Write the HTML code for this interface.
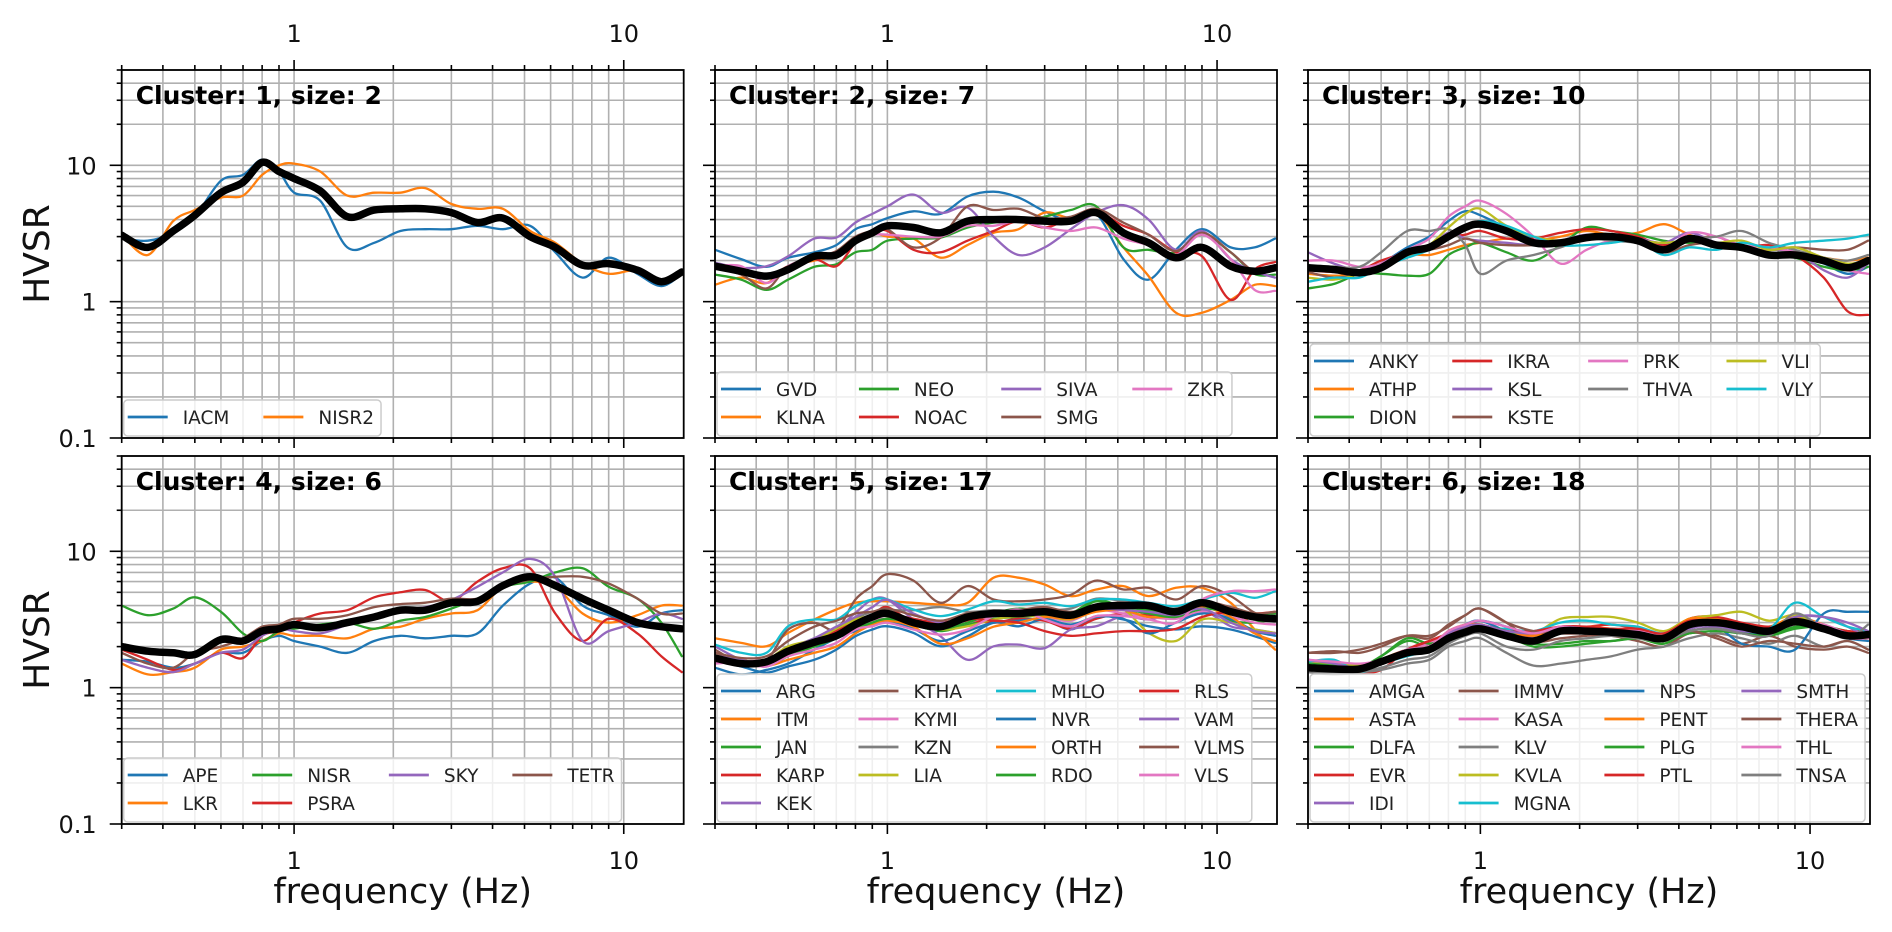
<!DOCTYPE html>
<html><head><meta charset="utf-8"><style>
html,body{margin:0;padding:0;background:#fff;}
svg{display:block;font-family:"DejaVu Sans","Liberation Sans",sans-serif;}
</style></head><body>
<svg id="fig" width="1892" height="932" viewBox="0 0 1892 932" xmlns="http://www.w3.org/2000/svg"></svg>
<script>
// Shared frequency grid (Hz)
const freqs = [0.3,0.36,0.43,0.5,0.6,0.7,0.8,0.9,1.0,1.2,1.45,1.75,2.1,2.5,3.0,3.6,4.3,5.2,6.2,7.5,9,11,13,15];
const xTicksMajor = [1,10];
const xTickLabels = ["1","10"];
const yTicksMajor = [0.1,1,10];
const yTickLabels = ["0.1","1","10"];

const c1Names = ["IACM","NISR2"];
const c1Series = [
 [2.9,2.8,3.2,4.2,7.7,8.5,11,9,6.3,5.5,2.5,2.7,3.3,3.4,3.4,3.6,3.4,3.6,2.3,1.5,2.1,1.6,1.3,1.6],
 [3.1,2.2,3.9,4.7,5.8,6,8.5,10,10.3,9,6,6.3,6.3,6.8,5.2,4.8,4.8,3.3,2.7,1.9,1.6,1.7,1.4,1.7]];
const c1Mean = [3.07,2.5,3.3,4.3,6.3,7.5,10.5,9.0,8.0,6.5,4.2,4.7,4.8,4.8,4.5,3.8,4.1,3.0,2.5,1.85,1.9,1.7,1.4,1.65];

const c2Names = ["GVD","KLNA","NEO","NOAC","SIVA","SMG","ZKR"];
const c2Series = [
 [2.4,2.05,1.8,2.1,2.3,2.6,3.4,3.7,4.1,4.6,4.4,5.9,6.4,5.8,4.6,3.9,4.4,2.05,1.45,2.4,3.4,2.5,2.5,2.9],
 [1.33,1.5,1.37,1.82,2.0,2.2,2.9,3.2,3.0,2.9,2.1,2.6,3.2,3.4,4.5,4.1,4.5,2.5,1.54,0.83,0.83,1.03,1.33,1.3],
 [1.58,1.45,1.22,1.45,1.8,1.88,2.3,2.4,2.8,2.9,2.95,3.5,3.8,3.9,4.2,4.7,5.0,2.5,2.4,2.3,3.1,2.3,1.6,1.58],
 [1.88,1.72,1.5,1.82,2.05,1.82,2.7,3.2,3.3,2.4,2.3,2.8,3.3,3.9,3.5,4.1,4.6,3.6,3.1,2.3,2.15,1.03,1.72,1.95],
 [1.93,1.77,1.82,2.15,2.9,2.95,3.8,4.4,5.0,6.1,4.5,4.9,3.0,2.2,2.5,3.4,4.5,5.1,4.0,2.4,3.3,2.05,1.67,1.5],
 [1.77,1.58,1.25,1.82,2.1,2.35,3.0,3.3,3.4,2.5,2.95,5.0,4.7,4.8,4.1,4.2,4.8,3.8,3.1,2.35,3.2,2.3,1.67,1.82],
 [1.82,1.82,1.37,1.82,2.15,2.3,2.8,3.1,3.1,3.0,3.0,3.6,3.6,3.9,3.5,3.3,3.5,2.9,2.6,2.2,3.1,2.05,1.22,1.2]];
const c2Mean = [1.82,1.67,1.54,1.72,2.15,2.2,2.8,3.2,3.6,3.5,3.2,3.9,4.0,4.0,3.9,3.9,4.5,3.2,2.7,2.1,2.5,1.82,1.67,1.77];

const c3Names = ["ANKY","ATHP","DION","IKRA","KSL","KSTE","PRK","THVA","VLI","VLY"];
const c3Series = [
 [1.8,1.7,1.65,1.9,2.5,3.0,3.9,4.6,4.3,3.5,2.9,2.8,3.0,2.9,2.7,2.6,2.8,2.7,2.6,2.3,2.2,1.9,1.6,1.8],
 [1.6,1.55,1.6,1.9,2.2,2.2,2.4,2.6,2.7,2.9,2.8,3.0,3.3,3.1,3.2,3.7,3.1,2.6,2.4,2.2,2.3,2.1,2.0,2.1],
 [1.25,1.35,1.6,1.6,1.55,1.6,2.2,2.5,2.7,2.3,2.0,2.6,3.5,3.3,3.1,2.8,2.7,2.7,2.4,2.2,2.1,1.8,1.7,1.8],
 [1.7,1.65,1.7,2.0,2.3,2.6,3.0,3.1,3.3,2.9,2.9,3.2,3.4,3.3,3.0,2.6,2.8,3.0,2.5,2.6,2.2,1.5,0.85,0.8],
 [2.3,1.9,1.7,1.9,2.4,2.5,3.2,2.9,2.8,2.7,2.6,2.8,3.1,3.0,2.9,2.7,3.2,2.7,2.4,2.4,2.3,1.7,1.5,1.9],
 [1.65,1.5,1.6,1.8,2.3,2.4,2.6,2.9,2.7,2.6,2.6,2.8,3.0,3.0,2.9,2.3,2.6,2.7,2.4,2.4,2.5,2.4,2.4,2.8],
 [2.0,2.0,1.8,1.9,2.4,2.9,4.2,5.0,5.5,4.4,3.0,1.9,2.4,2.8,2.7,2.4,3.2,3.0,2.6,2.5,2.3,2.0,1.7,1.6],
 [1.8,1.8,1.8,2.3,3.3,3.3,3.4,2.6,1.6,2.0,2.2,2.5,2.9,2.8,2.7,2.5,2.9,3.0,3.3,2.7,2.4,2.1,2.0,2.2],
 [1.5,1.45,1.6,1.8,2.2,2.6,3.5,4.4,4.8,3.6,3.0,2.8,3.0,2.9,2.8,2.7,2.8,2.7,2.8,2.4,2.5,2.1,1.9,2.0],
 [1.4,1.5,1.5,1.8,2.1,2.4,2.9,3.5,3.9,3.6,3.0,2.6,2.6,2.7,2.8,2.2,2.5,2.4,2.7,2.5,2.7,2.8,2.9,3.1]];
const c3Mean = [1.77,1.72,1.63,1.77,2.3,2.5,3.0,3.5,3.7,3.3,2.7,2.7,2.95,3.0,2.8,2.4,2.9,2.6,2.5,2.2,2.2,2.0,1.77,2.0];

const c4Names = ["APE","LKR","NISR","PSRA","SKY","TETR"];
const c4Series = [
 [1.6,1.55,1.4,1.5,1.8,1.8,2.2,2.4,2.2,2.0,1.8,2.2,2.4,2.3,2.4,2.5,4.0,5.8,6.4,4.0,3.4,2.8,3.5,3.7],
 [1.5,1.25,1.3,1.4,1.9,2.0,2.2,2.5,2.4,2.4,2.3,2.7,2.8,3.2,3.5,3.7,5.5,6.0,5.5,3.5,3.0,3.4,4.0,4.0],
 [4.0,3.4,3.8,4.6,3.6,2.5,2.2,2.6,2.7,2.9,3.0,2.7,3.1,3.3,3.8,4.5,5.5,6.0,7.0,7.5,5.5,4.5,3.0,1.7],
 [1.9,1.6,1.35,1.5,1.8,1.65,2.4,2.6,3.0,3.5,3.7,4.6,5.0,5.2,4.3,6.0,7.5,7.5,3.5,2.2,3.2,2.5,1.7,1.3],
 [1.6,1.4,1.3,1.5,1.8,1.9,2.4,2.7,2.6,2.5,2.9,3.4,3.7,3.9,4.4,5.5,7.0,8.8,6.5,2.2,2.6,3.0,3.5,3.2],
 [1.8,1.5,1.4,1.8,2.0,2.3,2.8,2.9,3.2,3.2,3.4,3.9,4.1,4.2,4.5,4.5,5.5,6.2,6.5,6.5,5.8,4.5,3.5,3.5]];
const c4Mean = [2.0,1.85,1.8,1.75,2.25,2.2,2.6,2.7,2.9,2.75,3.0,3.3,3.7,3.7,4.2,4.3,5.6,6.5,5.6,4.5,3.7,3.0,2.8,2.7];

const c5Names = ["ARG","ITM","JAN","KARP","KEK","KTHA","KYMI","KZN","LIA","MHLO","NVR","ORTH","RDO","RLS","VAM","VLMS","VLS"];
const c5Series = [
 [1.6,1.43,1.29,1.43,1.6,1.9,2.38,2.67,2.82,2.52,2.01,2.38,2.99,2.82,3.16,2.67,3.35,3.16,2.82,2.67,2.82,2.67,2.38,2.13],
 [2.3,2.13,2.01,2.52,3.16,3.74,4.19,4.3,4.3,4.19,4.07,4.19,6.4,6.4,5.7,4.69,5.25,5.56,4.69,5.4,5.4,4.19,2.67,1.9],
 [1.7,1.5,1.45,1.7,2.1,2.4,2.9,3.1,3.2,2.9,2.6,2.9,3.2,3.3,3.4,3.5,4.4,3.9,3.7,3.4,3.7,3.1,3.0,3.2],
 [1.6,1.5,1.45,1.8,2.2,2.4,3.0,3.4,3.9,3.0,2.9,3.1,3.0,3.2,3.1,2.7,3.2,3.5,3.4,3.5,3.9,3.5,3.2,3.4],
 [2.01,1.6,1.43,1.8,2.25,2.67,3.54,4.43,4.43,3.16,2.38,1.6,2.01,2.07,1.95,2.67,2.82,3.35,3.16,3.54,3.74,2.82,2.67,2.52],
 [1.9,1.52,1.6,2.67,2.99,2.67,4.43,5.56,6.8,6.1,4.19,5.56,4.43,4.3,4.43,4.8,6.1,5.25,5.4,4.43,5.56,4.69,3.54,3.16],
 [1.5,1.55,1.6,1.8,2.2,2.5,2.9,3.1,3.2,2.9,2.7,3.0,3.4,3.6,3.3,3.1,3.7,3.5,3.3,3.2,3.6,3.3,3.0,2.9],
 [1.7,1.6,1.5,1.9,2.3,2.6,3.2,3.6,3.7,3.7,3.9,3.6,3.7,3.6,3.7,3.8,4.5,4.3,4.0,3.7,4.2,3.6,3.3,3.4],
 [1.8,1.52,1.6,2.01,2.25,2.67,3.16,3.35,3.35,2.99,2.67,2.82,3.16,3.35,3.35,3.16,3.74,3.74,2.52,2.2,3.16,2.99,2.67,2.52],
 [2.07,1.8,1.8,2.82,3.16,3.16,3.96,4.43,4.43,3.74,3.35,3.74,4.3,4.07,4.19,3.96,4.43,4.43,4.19,3.96,4.43,4.96,4.56,5.1],
 [1.4,1.25,1.35,1.5,1.9,2.3,2.6,2.9,3.1,2.7,2.2,2.6,3.0,3.1,3.2,2.9,3.3,3.2,2.5,3.0,3.5,3.2,2.6,2.4],
 [1.7,1.6,1.45,1.6,1.8,2.0,2.5,2.9,3.1,2.8,2.1,2.3,2.8,3.0,3.3,3.2,3.6,3.7,3.3,3.4,3.9,3.3,2.5,2.2],
 [1.6,1.45,1.5,1.7,2.0,2.3,2.7,3.0,3.2,3.0,2.7,3.0,3.5,3.8,3.6,3.4,4.3,3.8,3.5,3.3,3.8,3.6,3.5,3.5],
 [1.7,1.55,1.5,1.8,2.1,2.6,3.0,3.3,3.5,3.2,3.0,3.2,3.1,3.0,2.6,2.4,2.5,2.6,2.6,2.7,3.3,3.6,3.5,3.6],
 [1.8,1.6,1.5,1.9,2.3,2.8,3.3,3.9,4.4,3.5,3.0,3.2,3.5,3.5,3.7,3.4,3.8,3.7,3.6,3.4,3.8,3.0,2.6,2.5],
 [1.8,1.65,1.7,2.2,2.8,3.1,3.5,3.6,3.8,3.4,3.1,3.5,3.6,3.7,3.9,3.6,4.0,4.2,3.9,3.8,4.3,3.9,3.5,3.6],
 [1.52,1.52,1.43,1.7,1.9,2.13,2.67,2.82,2.99,2.67,2.45,2.67,3.35,3.74,3.16,2.82,3.35,3.35,3.16,2.99,4.43,5.1,5.1,5.25]];
const c5Mean = [1.65,1.5,1.55,1.85,2.15,2.4,2.9,3.3,3.5,3.0,2.8,3.3,3.5,3.5,3.6,3.4,3.9,4.0,4.0,3.6,4.2,3.6,3.3,3.2];

const c6Names = ["AMGA","ASTA","DLFA","EVR","IDI","IMMV","KASA","KLV","KVLA","MGNA","NPS","PENT","PLG","PTL","SMTH","THERA","THL","TNSA"];
const c6Series = [
 [1.5,1.4,1.3,1.5,1.8,2.0,2.5,2.9,3.1,2.6,2.3,2.6,2.7,2.6,2.5,2.3,2.8,2.9,2.6,2.5,2.9,2.6,2.3,2.2],
 [1.6,1.45,1.3,1.5,1.8,1.9,2.6,2.8,2.9,2.4,2.3,2.7,2.7,2.7,2.6,2.4,3.2,3.2,2.9,2.8,3.3,2.9,2.5,2.3],
 [1.45,1.35,1.4,1.7,2.2,2.0,2.4,2.7,2.9,2.4,2.0,2.0,2.1,2.2,2.3,2.1,2.6,2.7,2.5,2.4,2.7,2.8,2.6,2.5],
 [1.5,1.4,1.3,1.35,1.9,2.2,2.4,2.7,2.8,2.5,2.4,2.8,2.8,2.9,2.7,2.4,3.2,3.3,3.0,2.8,3.0,2.8,2.6,2.6],
 [1.55,1.45,1.4,1.6,1.9,2.0,2.4,2.6,2.7,2.4,2.3,2.6,2.6,2.5,2.4,2.2,2.7,2.9,2.7,2.6,3.3,3.3,2.8,2.3],
 [1.8,1.85,1.8,2.0,2.4,2.4,2.8,3.4,3.8,3.0,2.2,2.3,2.4,2.4,2.2,2.0,2.5,2.4,2.1,2.4,2.0,1.9,2.0,1.8],
 [1.6,1.5,1.45,1.6,1.9,2.1,2.5,2.9,2.9,2.6,2.4,2.6,2.7,2.6,2.4,2.2,2.8,2.9,2.7,2.5,2.9,2.6,2.3,2.3],
 [1.3,1.3,1.3,1.35,1.5,1.6,2.0,2.2,2.3,1.8,1.45,1.5,1.6,1.7,1.9,2.0,2.3,2.5,2.3,2.1,2.4,2.0,2.2,1.9],
 [1.5,1.5,1.45,1.6,1.9,2.0,2.4,2.7,2.8,2.6,2.5,3.2,3.3,3.3,3.0,2.6,3.2,3.4,3.6,3.1,3.4,2.8,2.5,2.3],
 [1.55,1.6,1.3,1.5,1.7,1.9,2.3,2.6,2.7,2.7,2.6,3.0,3.1,2.9,2.8,2.5,3.0,3.1,2.9,2.7,4.2,3.3,2.8,2.6],
 [1.5,1.4,1.35,1.5,1.8,1.9,2.4,2.8,3.1,2.8,2.4,2.6,2.7,2.7,2.6,2.3,2.9,2.8,2.1,2.0,1.9,3.5,3.6,3.6],
 [1.5,1.4,1.3,1.6,1.9,2.0,2.6,2.9,2.9,2.6,2.4,2.7,2.8,2.7,2.6,2.4,3.2,3.1,2.8,2.7,3.1,2.7,2.4,2.3],
 [1.5,1.45,1.4,1.7,2.3,2.1,2.3,2.5,2.8,2.6,2.1,2.1,2.2,2.2,2.3,2.2,2.5,2.6,2.5,2.4,2.8,2.8,2.5,2.5],
 [1.45,1.4,1.35,1.5,1.9,2.2,2.5,2.8,2.9,2.6,2.6,2.8,2.8,2.7,2.7,2.5,3.1,3.0,2.7,2.6,3.0,2.7,2.6,2.4],
 [1.6,1.5,1.4,1.6,1.9,2.0,2.5,2.8,2.9,2.6,2.5,2.7,2.7,2.6,2.5,2.3,2.6,2.8,2.6,2.6,3.3,3.3,3.0,2.6],
 [1.8,1.8,1.9,2.1,2.4,2.3,2.9,3.4,3.8,3.0,2.6,2.5,2.5,2.5,2.4,2.2,2.6,2.3,2.0,2.2,2.1,2.0,2.2,1.9],
 [1.6,1.55,1.5,1.6,1.9,2.0,2.6,2.9,3.1,2.8,2.5,2.8,2.7,2.6,2.6,2.4,3.0,3.0,2.8,2.7,3.1,2.9,2.5,2.3],
 [1.3,1.25,1.3,1.4,1.6,1.7,2.1,2.4,2.5,2.0,1.9,2.2,2.3,2.4,2.3,2.2,2.6,2.7,2.5,2.4,3.5,2.7,2.3,2.9]];
const c6Mean = [1.4,1.37,1.37,1.55,1.8,1.9,2.3,2.55,2.7,2.4,2.2,2.6,2.6,2.55,2.45,2.3,2.9,3.0,2.8,2.6,3.05,2.7,2.4,2.45];

const clusterIds = [1,2,3,4,5,6];
const allNames = [c1Names,c2Names,c3Names,c4Names,c5Names,c6Names];
const allSeries = [c1Series,c2Series,c3Series,c4Series,c5Series,c6Series];
const allMeans = [c1Mean,c2Mean,c3Mean,c4Mean,c5Mean,c6Mean];

const COLORS = ["#1f77b4","#ff7f0e","#2ca02c","#d62728","#9467bd","#8c564b","#e377c2","#7f7f7f","#bcbd22","#17becf"];
const NS = "http://www.w3.org/2000/svg";
const svg = document.getElementById('fig');
const colLeft = [121.7, 715, 1308], rowTop = [70, 456];
const PW = 562, PH = 368;
const XMIN = 0.3, XMAX = 15.2, YMIN = 0.1, YMAX = 50;
const LFS = 18.5, ROWH = 28, COLSP = 34, HGAP = 15;

function el(tag, attrs, parent){ const e = document.createElementNS(NS, tag); for (const k in attrs) e.setAttribute(k, attrs[k]); (parent||svg).appendChild(e); return e; }
const ctx = document.createElement('canvas').getContext('2d');
ctx.font = LFS + 'px "DejaVu Sans"';
function tw(s){ return ctx.measureText(s).width; }

function smoothPath(pts){
  let d = `M${pts[0][0].toFixed(1)},${pts[0][1].toFixed(1)}`;
  for (let i=0;i<pts.length-1;i++){
    const p0 = pts[Math.max(0,i-1)], p1 = pts[i], p2 = pts[i+1], p3 = pts[Math.min(pts.length-1,i+2)];
    const c1x = p1[0]+(p2[0]-p0[0])/6, c1y = p1[1]+(p2[1]-p0[1])/6;
    const c2x = p2[0]-(p3[0]-p1[0])/6, c2y = p2[1]-(p3[1]-p1[1])/6;
    d += ` C${c1x.toFixed(1)},${c1y.toFixed(1)} ${c2x.toFixed(1)},${c2y.toFixed(1)} ${p2[0].toFixed(1)},${p2[1].toFixed(1)}`;
  }
  return d;
}

const defs = el('defs', {});

for (let p=0;p<6;p++){
  const row = Math.floor(p/3), col = p%3;
  const L = colLeft[col], T = rowTop[row];
  const xs = f => L + Math.log10(f/XMIN)/Math.log10(XMAX/XMIN)*PW;
  const ys = v => T + Math.log10(YMAX/v)/Math.log10(YMAX/YMIN)*PH;
  const g = el('g', {});
  
  
  const cp = el('clipPath', {id:'clip'+p}, defs);
  el('rect', {x:L, y:T, width:PW, height:PH}, cp);

  const grid = el('g', {stroke:'#b0b0b0','stroke-width':1.6}, g);
  
  
  const xgrid = [];
  for (const dec of [0.1,1,10]) for (let k=1;k<10;k++){ const f=k*dec; if (f>=XMIN-1e-9 && f<=XMAX) xgrid.push(f); }
  xgrid.forEach(f=>{ const x=xs(f); el('line',{x1:x,x2:x,y1:T,y2:T+PH},grid); });
  const ygrid = [];
  for (const dec of [0.1,1,10]) for (let k=1;k<10;k++){ const v=k*dec; if (v>=YMIN && v<=YMAX) ygrid.push(v); }
  ygrid.forEach(v=>{ const y=ys(v); el('line',{x1:L,x2:L+PW,y1:y,y2:y},grid); });

  const lg = el('g', {'clip-path':`url(#clip${p})`, fill:'none','stroke-linejoin':'round','stroke-linecap':'round'}, g);
  allSeries[p].forEach((vals,i)=>{
    const pts = vals.map((v,j)=>[xs(freqs[j]), ys(v)]);
    const path = el('path', {d:smoothPath(pts), stroke:COLORS[i%10], 'stroke-width':2.3}, lg);
    
    
  });
  const mpts = allMeans[p].map((v,j)=>[xs(freqs[j]), ys(v)]);
  const mp = el('path', {d:smoothPath(mpts), stroke:'#000', 'stroke-width':7.5}, lg);
  
  

  const t = el('text', {x:L+14, y:T+34, 'font-size':25, 'font-weight':'bold', fill:'#000'}, g);
  t.textContent = `Cluster: ${clusterIds[p]}, size: ${allNames[p].length}`;
  
  

  const names = allNames[p];
  const ncol = Math.min(4, names.length);
  const nrow = Math.ceil(names.length/ncol);
  const nfull = names.length % ncol === 0 ? ncol : names.length % ncol;
  const cols = [];
  let idx = 0;
  for (let c=0;c<ncol;c++){ const n = c<nfull ? nrow : nrow-1; const items=[]; for(let r=0;r<n;r++) items.push(idx++); if(items.length) cols.push(items); }
  const legH = nrow*ROWH+8, legB = T+PH-2, legT = legB-legH, legL = L+2;
  let cx = legL+4;
  const colX = [];
  cols.forEach((items,ci)=>{ colX.push(cx); const w = Math.max(...items.map(i=>tw(names[i]))); cx += 40+HGAP+w+(ci<cols.length-1?COLSP:0); });
  const legW = cx - legL + 7;
  const leg = el('g', {}, g);
  
  
  el('rect', {x:legL, y:legT, width:legW, height:legH, rx:4, fill:'#fff','fill-opacity':0.8, stroke:'#cccccc','stroke-width':1.5}, leg);
  cols.forEach((items,ci)=>{
    items.forEach((ix,r)=>{
      const yy = legT+17+r*ROWH;
      const e = el('g', {}, leg);
      
      
      el('line', {x1:colX[ci], x2:colX[ci]+40, y1:yy, y2:yy, stroke:COLORS[ix%10], 'stroke-width':2.8}, e);
      const tt = el('text', {x:colX[ci]+40+HGAP, y:yy+7, 'font-size':LFS, fill:'#222'}, e);
      tt.textContent = names[ix];
    });
  });

  const sp = el('rect', {x:L, y:T, width:PW, height:PH, fill:'none', stroke:'#000','stroke-width':1.8}, g);
  
  

  const yt = el('g', {stroke:'#000','stroke-width':1.6}, g);
  
  
  ygrid.forEach(v=>{ const y=ys(v); const major = yTicksMajor.some(m=>Math.abs(m-v)<1e-9); el('line',{x1:L-(major?12:5),x2:L,y1:y,y2:y},yt); });
  if (col===0){
    yTicksMajor.forEach((v,i)=>{
      const tx = el('text', {x:L-25, y:ys(v)+9, 'font-size':24, 'text-anchor':'end', fill:'#111'}, g);
      tx.textContent = yTickLabels[i];
      
      
    });
  }
  const xt = el('g', {stroke:'#000','stroke-width':1.6}, g);
  
  
  xgrid.forEach(f=>{
    const x=xs(f); const major = xTicksMajor.some(m=>Math.abs(m-f)<1e-9);
    el('line',{x1:x,x2:x,y1:T+PH,y2:T+PH+(major?10:5)},xt);
    if (row===0 && col<2) el('line',{x1:x,x2:x,y1:T,y2:T-(major?10:5)},xt);
  });
  xTicksMajor.forEach((f,i)=>{
    if (row===1){
      const tx = el('text', {x:xs(f), y:T+PH+45, 'font-size':24, 'text-anchor':'middle', fill:'#111'}, g);
      tx.textContent = xTickLabels[i];
      
      
    } else if (col<2){
      const tx = el('text', {x:xs(f), y:T-28, 'font-size':24, 'text-anchor':'middle', fill:'#111'}, g);
      tx.textContent = xTickLabels[i];
      
      
    }
  });
  if (row===1){
    const xl = el('text', {x:L+PW/2, y:903, 'font-size':35, 'text-anchor':'middle', fill:'#111'}, g);
    xl.textContent = 'frequency (Hz)';
    
    
  }
  if (col===0){
    const cy = T+PH/2;
    const yl = el('text', {x:49, y:cy, 'font-size':36, 'text-anchor':'middle', fill:'#111', transform:`rotate(-90 49 ${cy})`}, g);
    yl.textContent = 'HVSR';
    
    
  }
}
</script>
</body></html>
